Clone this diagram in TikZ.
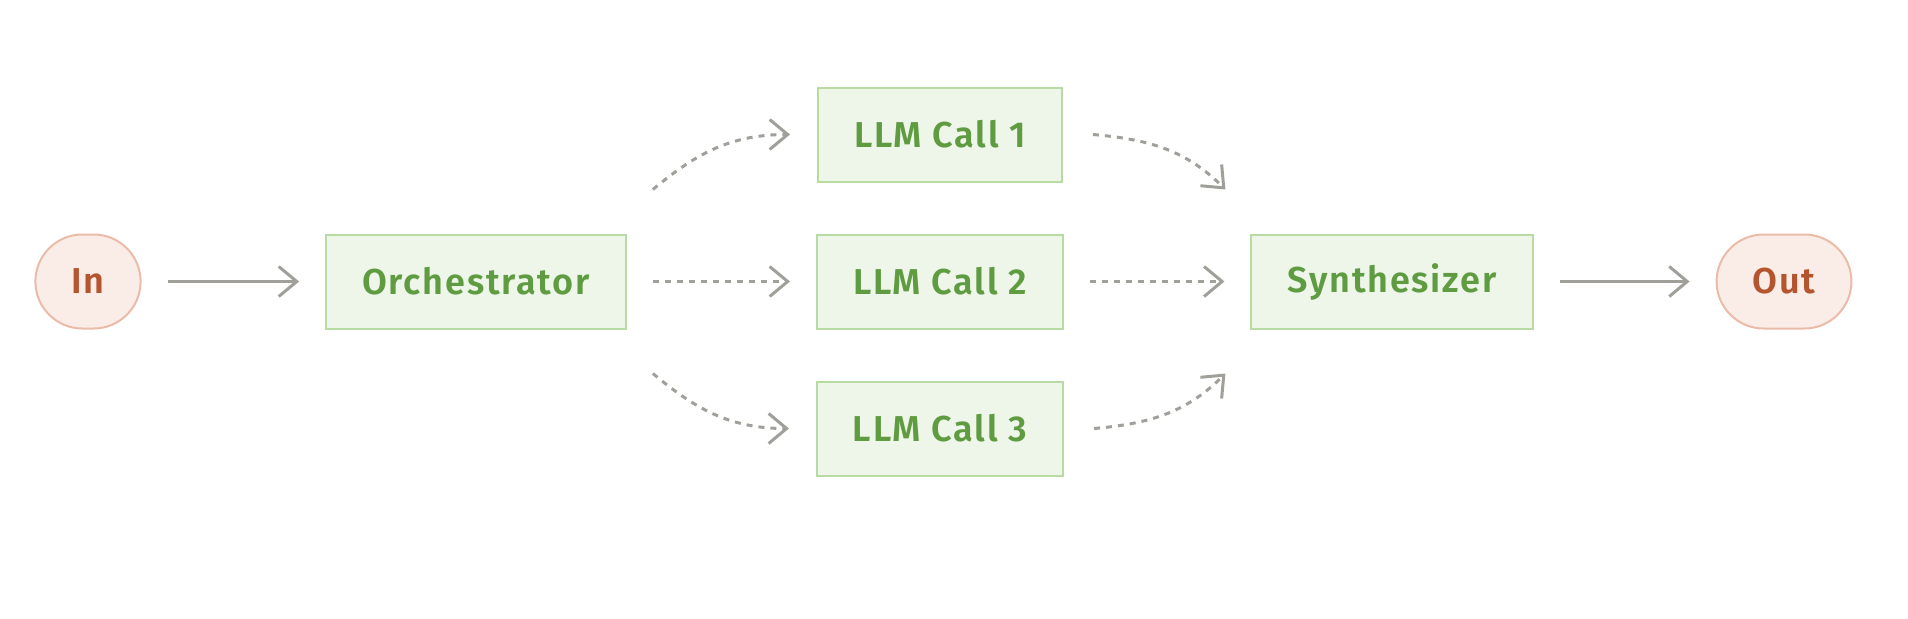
\documentclass[tikz,border=0pt]{standalone}
\usepackage{fontspec}
\setmainfont{Fira Sans}
\newfontfamily\boxfont[LetterSpace=5]{Fira Sans SemiBold}
\usetikzlibrary{arrows.meta,positioning}
\definecolor{boxgreen}{RGB}{238, 245, 233}
\definecolor{boxedge}{RGB}{184, 219, 164}
\definecolor{boxtext}{RGB}{95, 155, 65}
\definecolor{iofill}{RGB}{250, 237, 232}
\definecolor{ioedge}{RGB}{235, 187, 170}
\definecolor{iotext}{RGB}{180, 85, 47}
\definecolor{flowgray}{RGB}{160, 159, 154}

\begin{document}
\begin{tikzpicture}[on grid, >={Straight Barb[length=9pt,width=15pt]},
    every node/.style={font=\boxfont\fontsize{18}{21}\selectfont},
    llm/.style={draw=boxedge,fill=boxgreen,text=boxtext,line width=1pt,minimum height=47pt,inner xsep=18pt},
    io/.style={draw=ioedge,fill=iofill,text=iotext,line width=1pt,rounded corners=23.5pt,minimum height=47pt,minimum width=52.5pt,inner xsep=18pt},
    flow/.style={->,draw=flowgray,line width=1.5pt,shorten <=13pt,shorten >=13pt},
    dflow/.style={flow,dash pattern=on 3pt off 3pt}]
    \useasboundingbox (0,0) rectangle (954pt,-309pt);

    \node[io] (In) at (44pt,-140.75pt) {In};
    \node[llm, right=194pt of In] (Orch) {Orchestrator};
    \node[llm, right=232pt of Orch] (Call2) {LLM Call 2};
    \node[llm, above=73.5pt of Call2] (Call1) {LLM Call 1};
    \node[llm, below=73.5pt of Call2] (Call3) {LLM Call 3};
    \node[llm, right=226pt of Call2] (Synth) {Synthesizer};
    \node[io, right=196pt of Synth] (Out) {Out};

    \draw[flow] (In) -- (Orch);
    \draw[dflow] (Orch) -- (Call2);
    \draw[dflow] (Call2) -- (Synth);
    \draw[flow] (Synth) -- (Out);

    % fan out / fan in
    \draw[dflow,shorten <=0pt,shorten >=0pt] ([xshift=13pt,yshift=22pt]Orch.north east) to[out=40,in=180] ([xshift=-13.5pt]Call1.west);
    \draw[dflow,shorten <=0pt,shorten >=0pt] ([xshift=13pt,yshift=-22pt]Orch.south east) to[out=-40,in=180] ([xshift=-13.5pt]Call3.west);
    \draw[dflow,shorten <=0pt,shorten >=0pt] ([xshift=15pt]Call1.east) to[out=-5,in=135] ([xshift=-12.5pt,yshift=22pt]Synth.north west);
    \draw[dflow,shorten <=0pt,shorten >=0pt] ([xshift=15pt]Call3.east) to[out=5,in=-135] ([xshift=-12.5pt,yshift=-22pt]Synth.south west);
\end{tikzpicture}
\end{document}
